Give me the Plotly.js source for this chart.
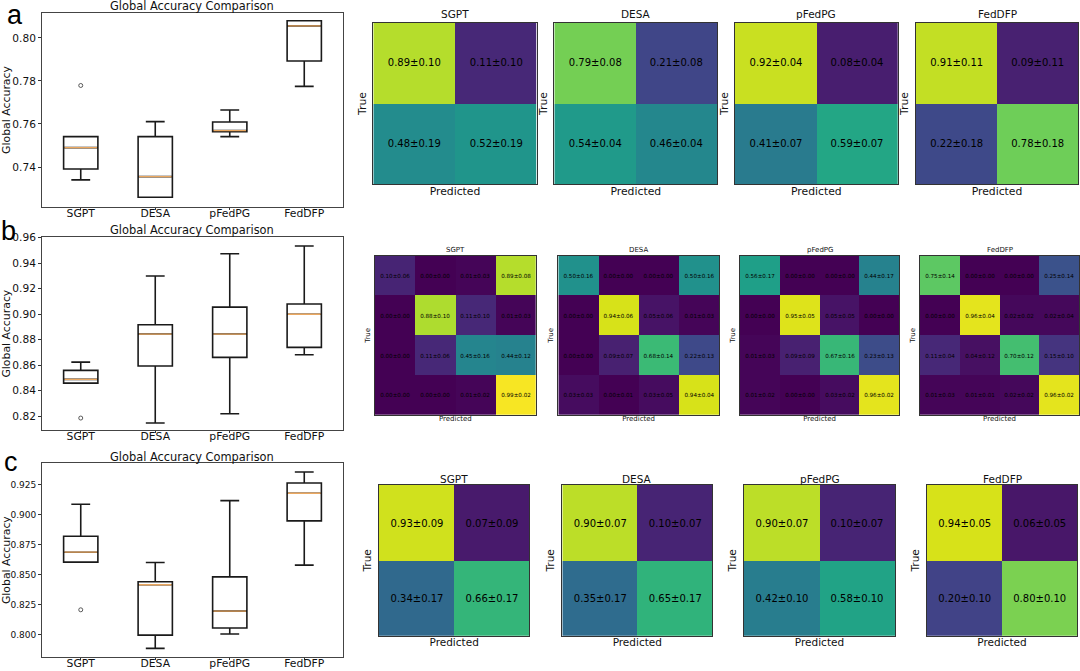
<!DOCTYPE html>
<html><head><meta charset="utf-8">
<script src="https://cdn.plot.ly/plotly-3.0.1.min.js"></script>
<style>html,body{margin:0;padding:0;background:#fff}#chart{width:1080px;height:671px}</style>
</head><body><div id="chart"></div>
<script>
// ---------------- DATA ----------------
const methods = ['SGPT', 'DESA', 'pFedPG', 'FedDFP'];

// Panel a box statistics (Global Accuracy)
const aQ1     = [0.7391, 0.7259, 0.7564, 0.7893];
const aMedian = [0.7490, 0.7355, 0.7569, 0.8056];
const aQ3     = [0.7541, 0.7541, 0.7609, 0.8080];
const aLow    = [0.7340, 0.7259, 0.7541, 0.7775];
const aHigh   = [0.7541, 0.7611, 0.7665, 0.8080];
const aOutX   = ['SGPT'];
const aOutY   = [0.7779];

// Panel b box statistics
const bQ1     = [0.8460, 0.8594, 0.8662, 0.8740];
const bMedian = [0.8489, 0.8845, 0.8845, 0.9000];
const bQ3     = [0.8560, 0.8918, 0.9056, 0.9080];
const bLow    = [0.8460, 0.8147, 0.8220, 0.8682];
const bHigh   = [0.8625, 0.9300, 0.9475, 0.9535];
const bOutX   = ['SGPT'];
const bOutY   = [0.8186];

// Panel c box statistics
const cQ1     = [0.8606, 0.7997, 0.8056, 0.8950];
const cMedian = [0.8689, 0.8417, 0.8197, 0.9181];
const cQ3     = [0.8822, 0.8442, 0.8483, 0.9267];
const cLow    = [0.8606, 0.7886, 0.8006, 0.8581];
const cHigh   = [0.9089, 0.8603, 0.9119, 0.9358];
const cOutX   = ['SGPT'];
const cOutY   = [0.8208];

// Y tick labels
const aTicks = [0.74, 0.76, 0.78, 0.80];
const bTicks = [0.82, 0.84, 0.86, 0.88, 0.90, 0.92, 0.94, 0.96];
const cTicks = [0.800, 0.825, 0.850, 0.875, 0.900, 0.925];

// Confusion matrices, row a (2 classes): mean / std
const aSGPTm   = [[0.89, 0.11], [0.48, 0.52]];
const aSGPTs   = [[0.10, 0.10], [0.19, 0.19]];
const aDESAm   = [[0.79, 0.21], [0.54, 0.46]];
const aDESAs   = [[0.08, 0.08], [0.04, 0.04]];
const aPFEDm   = [[0.92, 0.08], [0.41, 0.59]];
const aPFEDs   = [[0.04, 0.04], [0.07, 0.07]];
const aFDFPm   = [[0.91, 0.09], [0.22, 0.78]];
const aFDFPs   = [[0.11, 0.11], [0.18, 0.18]];

// Row b (4 classes)
const bSGPTm = [[0.10, 0.00, 0.01, 0.89], [0.00, 0.88, 0.11, 0.01], [0.00, 0.11, 0.45, 0.44], [0.00, 0.00, 0.01, 0.99]];
const bSGPTs = [[0.06, 0.00, 0.03, 0.08], [0.00, 0.10, 0.10, 0.03], [0.00, 0.06, 0.16, 0.12], [0.00, 0.00, 0.02, 0.02]];
const bDESAm = [[0.50, 0.00, 0.00, 0.50], [0.00, 0.94, 0.05, 0.01], [0.00, 0.09, 0.68, 0.22], [0.03, 0.00, 0.03, 0.94]];
const bDESAs = [[0.16, 0.00, 0.00, 0.16], [0.00, 0.06, 0.06, 0.03], [0.00, 0.07, 0.14, 0.13], [0.03, 0.01, 0.05, 0.04]];
const bPFEDm = [[0.56, 0.00, 0.00, 0.44], [0.00, 0.95, 0.05, 0.00], [0.01, 0.09, 0.67, 0.23], [0.01, 0.00, 0.03, 0.96]];
const bPFEDs = [[0.17, 0.00, 0.00, 0.17], [0.00, 0.05, 0.05, 0.00], [0.03, 0.09, 0.16, 0.13], [0.02, 0.00, 0.02, 0.02]];
const bFDFPm = [[0.75, 0.00, 0.00, 0.25], [0.00, 0.96, 0.02, 0.02], [0.11, 0.04, 0.70, 0.15], [0.01, 0.01, 0.02, 0.96]];
const bFDFPs = [[0.14, 0.00, 0.00, 0.14], [0.00, 0.04, 0.02, 0.04], [0.04, 0.12, 0.12, 0.10], [0.03, 0.01, 0.02, 0.02]];

// Row c (2 classes)
const cSGPTm = [[0.93, 0.07], [0.34, 0.66]];
const cSGPTs = [[0.09, 0.09], [0.17, 0.17]];
const cDESAm = [[0.90, 0.10], [0.35, 0.65]];
const cDESAs = [[0.07, 0.07], [0.17, 0.17]];
const cPFEDm = [[0.90, 0.10], [0.42, 0.58]];
const cPFEDs = [[0.07, 0.07], [0.10, 0.10]];
const cFDFPm = [[0.94, 0.06], [0.20, 0.80]];
const cFDFPs = [[0.05, 0.05], [0.10, 0.10]];

// ---------------- LAYOUT / STYLE ----------------
const W = 1080, H = 671;
const FONT = 'DejaVu Sans';
const px = v => v / W;
const py = v => 1 - v / H;
const BOXW = 0.46;
const MEDIAN_COLOR = '#eba860';

const traces = [];
const layout = {
  width: W, height: H, margin: {l: 0, r: 0, t: 0, b: 0},
  paper_bgcolor: '#fff', plot_bgcolor: '#fff', showlegend: false,
  font: {family: FONT, color: '#111'},
  annotations: []
};

// box panels
const boxPanels = [
  {q1: aQ1, med: aMedian, q3: aQ3, lo: aLow, hi: aHigh, ox: aOutX, oy: aOutY, ticks: aTicks, fmt: '.2f',
   range: [0.7214, 0.8116], box: [42, 13, 343, 207], titleY: 5.5, tickSize: 10.6, letter: 'a', letterXY: [15, 15]},
  {q1: bQ1, med: bMedian, q3: bQ3, lo: bLow, hi: bHigh, ox: bOutX, oy: bOutY, ticks: bTicks, fmt: '.2f',
   range: [0.809, 0.9606], box: [42, 237, 343, 430.3], titleY: 230, tickSize: 10.6, letter: 'b', letterXY: [8.5, 231]},
  {q1: cQ1, med: cMedian, q3: cQ3, lo: cLow, hi: cHigh, ox: cOutX, oy: cOutY, ticks: cTicks, fmt: '.3f',
   range: [0.7814, 0.9431], box: [42, 463.3, 343, 657], titleY: 456.5, tickSize: 9, letter: 'c', letterXY: [11, 462]}
];

let axN = 0;
boxPanels.forEach((p) => {
  axN++;
  const xa = 'x' + (axN === 1 ? '' : axN), ya = 'y' + (axN === 1 ? '' : axN);
  const xs = methods.map((m, i) => i);
  traces.push({
    type: 'box', xaxis: xa, yaxis: ya, x: xs,
    q1: p.q1, median: p.med, q3: p.q3, lowerfence: p.lo, upperfence: p.hi,
    boxpoints: false, width: BOXW, whiskerwidth: 0.55,
    line: {color: '#1a1a1a', width: 1.6}, fillcolor: 'rgba(255,255,255,1)', hoverinfo: 'skip'
  });
  // median lines (orange)
  const mx = [], my = [];
  p.med.forEach((v, i) => { mx.push(i - BOXW / 2 + 0.012, i + BOXW / 2 - 0.012, null); my.push(v, v, null); });
  traces.push({type: 'scatter', mode: 'lines', xaxis: xa, yaxis: ya, x: mx, y: my,
    line: {color: MEDIAN_COLOR, width: 1.3}, hoverinfo: 'skip'});
  // outliers
  traces.push({type: 'scatter', mode: 'markers', xaxis: xa, yaxis: ya,
    x: p.ox.map(n => methods.indexOf(n)), y: p.oy,
    marker: {symbol: 'circle-open', size: 4, color: '#333', line: {width: 0.8, color: '#333'}}, hoverinfo: 'skip'});

  const [x0, y0, x1, y1] = p.box;
  layout['xaxis' + (axN === 1 ? '' : axN)] = {
    domain: [px(x0), px(x1)], anchor: ya, range: [-0.52, 3.52],
    tickvals: xs, ticktext: methods, ticks: 'outside', ticklen: 2, tickwidth: 1, tickcolor: '#333',
    ticklabelstandoff: -6,
    tickfont: {size: 10.8, family: FONT, color: '#111'},
    showline: true, mirror: true, linecolor: '#444', linewidth: 1, showgrid: false, zeroline: false, fixedrange: true
  };
  layout['yaxis' + (axN === 1 ? '' : axN)] = {
    domain: [py(y1), py(y0)], anchor: xa, range: p.range,
    tickvals: p.ticks, tickformat: p.fmt, ticks: 'outside', ticklen: 3, tickwidth: 1, tickcolor: '#333',
    tickfont: {size: p.tickSize, family: FONT, color: '#111'},
    title: {text: 'Global Accuracy', font: {size: 10.9, family: FONT, color: '#111'}, standoff: 2},
    showline: true, mirror: true, linecolor: '#444', linewidth: 1, showgrid: false, zeroline: false, fixedrange: true
  };
  layout.annotations.push({
    text: 'Global Accuracy Comparison', xref: 'paper', yref: 'paper',
    x: px((x0 + x1) / 2), y: py(p.titleY), xanchor: 'center', yanchor: 'middle',
    showarrow: false, font: {size: 11.4, family: FONT, color: '#111'}
  });
  layout.annotations.push({
    text: p.letter, xref: 'paper', yref: 'paper', x: px(p.letterXY[0]), y: py(p.letterXY[1]),
    xanchor: 'center', yanchor: 'middle', showarrow: false,
    font: {size: 27, family: 'Liberation Sans', color: '#000'}
  });
});

// heatmap panels
const rows = [
  {mats: [[aSGPTm, aSGPTs], [aDESAm, aDESAs], [aPFEDm, aPFEDs], [aFDFPm, aFDFPs]],
   xs: [[373.3, 536.7], [554.3, 717.3], [735, 897.7], [915.7, 1078.3]], y: [22.7, 184.3],
   cell: 10, title: 10.5, titleY: 14.5, lab: 10.8, xStand: 3, yStand: 3},
  {mats: [[bSGPTm, bSGPTs], [bDESAm, bDESAs], [bPFEDm, bPFEDs], [bFDFPm, bFDFPs]],
   xs: [[375, 535.7], [558.3, 719], [740, 899.3], [920, 1079]], y: [255.7, 415],
   cell: 5.6, title: 7, titleY: 250, lab: 7, xStand: 1, yStand: 2},
  {mats: [[cSGPTm, cSGPTs], [cDESAm, cDESAs], [cPFEDm, cPFEDs], [cFDFPm, cFDFPs]],
   xs: [[379, 529.3], [562.3, 712.3], [744, 895], [926.7, 1077.3]], y: [485, 635.7],
   cell: 10, title: 10.5, titleY: 478.5, lab: 10.5, xStand: 2, yStand: 4}
];

rows.forEach(r => {
  r.mats.forEach((pair, k) => {
    axN++;
    const [m, s] = pair;
    const n = m.length;
    const idx = m.map((_, i) => i);
    const txt = m.map((row, i) => row.map((v, j) => v.toFixed(2) + '±' + s[i][j].toFixed(2)));
    const xa = 'x' + axN, ya = 'y' + axN;
    traces.push({
      type: 'heatmap', xaxis: xa, yaxis: ya, x: idx, y: idx, z: m, text: txt,
      texttemplate: '%{text}', textfont: {size: r.cell, family: FONT, color: '#000'},
      colorscale: 'Viridis', zmin: 0, zmax: 1, showscale: false, hoverinfo: 'skip'
    });
    const [x0, x1] = r.xs[k];
    const [y0, y1] = r.y;
    layout['xaxis' + axN] = {
      domain: [px(x0), px(x1)], anchor: ya, range: [-0.5, n - 0.5],
      showticklabels: false, ticks: '', showgrid: false, zeroline: false,
      showline: true, mirror: true, linecolor: '#333', linewidth: 1, fixedrange: true,
      title: {text: 'Predicted', font: {size: r.lab, family: FONT, color: '#111'}, standoff: r.xStand}
    };
    layout['yaxis' + axN] = {
      domain: [py(y1), py(y0)], anchor: xa, range: [n - 0.5, -0.5],
      showticklabels: false, ticks: '', showgrid: false, zeroline: false,
      showline: true, mirror: true, linecolor: '#333', linewidth: 1, fixedrange: true,
      title: {text: 'True', font: {size: r.lab, family: FONT, color: '#111'}, standoff: r.yStand}
    };
    layout.annotations.push({
      text: methods[k], xref: 'paper', yref: 'paper', x: px((x0 + x1) / 2), y: py(r.titleY),
      xanchor: 'center', yanchor: 'middle', showarrow: false,
      font: {size: r.title, family: FONT, color: '#111'}
    });
  });
});

Plotly.newPlot('chart', traces, layout, {displayModeBar: false, staticPlot: true});
</script>
</body></html>
